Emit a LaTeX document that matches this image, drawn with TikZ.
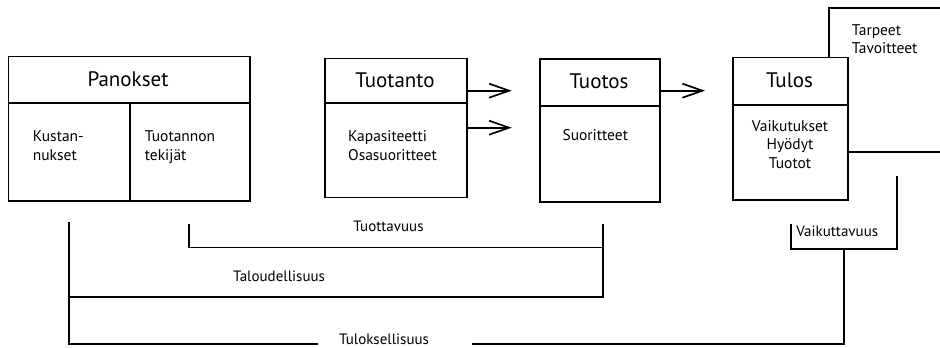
\documentclass[tikz,border=0pt]{standalone}
\usepackage{fontspec}
\setmainfont{PT Sans}
\usetikzlibrary{arrows.meta}
\begin{document}
\begin{tikzpicture}[x=1pt,y=-1pt,
  line width=1.7pt,
  box/.style={draw, anchor=north west, inner sep=0pt},
  head/.style={inner sep=0pt, font=\fontsize{21}{25}\selectfont},
  body/.style={inner sep=0pt, font=\fontsize{15.5}{18.3}\selectfont},
  blabel/.style={inner sep=0pt, font=\fontsize{15}{17}\selectfont},
  flow/.style={-{Straight Barb[length=20pt,width=14pt,line width=1.7pt]}},
  bracket/.style={line cap=rect}]
\useasboundingbox (0,0) rectangle (940,348);

% Panokset: inputs, split into costs and production factors
\node[box, minimum width=241.5pt, minimum height=144.5pt] (pan) at (7.5,55.5) {};
\draw (pan.west |- 0,103) -- (pan.east |- 0,103);
\draw (130,103) coordinate (panmid) -- (pan.south -| panmid);
\node[head] (panh) at (128,79) {Panokset};
\node[body, anchor=base west, align=left] (kus) at (32,160) {Kustan-\\nukset};
\node[body, anchor=base west, align=left] (tek) at (144,160) {Tuotannon\\tekijät};

% Tuotanto
\node[box, minimum width=142pt, minimum height=139pt] (tuo) at (324,57.7) {};
\draw (tuo.west |- 0,103) -- (tuo.east |- 0,103);
\node[head] (tuoh) at (395,80) {Tuotanto};
\node[body, anchor=base west, align=left] (kap) at (347.3,160) {Kapasiteetti\\Osasuoritteet};

% Tuotos
\node[box, minimum width=120pt, minimum height=143pt] (tos) at (539,58) {};
\draw (tos.west |- 0,106) -- (tos.east |- 0,106);
\node[head] (tosh) at (599,81) {Tuotos};
\node[body, anchor=base west] (suo) at (561.7,140.7) {Suoritteet};

% Tulos
\node[box, minimum width=115pt, minimum height=142.3pt] (tul) at (732,56.7) {};
\draw (tul.west |- 0,105) -- (tul.east |- 0,105);
\node[head] (tulh) at (789.5,80) {Tulos};
\node[body, anchor=base, align=center] (vai) at (790,168) {Vaikutukset\\Hyödyt\\Tuotot};

% Flow arrows
\coordinate (a1) at (511.7,90.7);
\coordinate (a2) at (511.7,127.7);
\coordinate (a3) at (705,90.7);
\draw[flow] (tuo.east |- a1) -- (a1);
\draw[flow] (tuo.east |- a2) -- (a2);
\draw[flow] (tos.east |- a3) -- (a3);

% Needs and goals frame behind Tulos
\coordinate (tp1) at (829,8.3);
\coordinate (tp2) at (940,8.3);
\coordinate (tp3) at (940,151.7);
\draw[bracket] (tul.north -| tp1) -- (tp1) -- (tp2);
\draw (tul.east |- tp3) -- (tp3);
\node[body, anchor=base west, align=left] (tar) at (851,53.3) {Tarpeet\\Tavoitteet};

% Tuottavuus
\coordinate (p1) at (189.3,225);
\coordinate (p2) at (602.7,225);
\draw[bracket] (p1) -- (189.3,247.5) -- (602.7,247.5) -- (p2);
\node[blabel] (ptxt) at (388.5,226.7) {Tuottavuus};

% Taloudellisuus
\coordinate (t1) at (69,223);
\draw[bracket] (69,297.3) -- (602.7,297.3) -- (602.7,247.5);
\node[blabel] (ttxt) at (279,276) {Taloudellisuus};

% Vaikuttavuus
\coordinate (v1) at (790.7,225);
\coordinate (v2) at (897.3,177);
\coordinate (vm) at (844,249);
\draw[bracket] (v1) -- (790.7,249) -- (897.3,249) -- (v2);
\node[blabel, anchor=west] (vtxt) at (795.5,231.7) {Vaikuttavuus};

% Tuloksellisuus
\node[blabel] (ltxt) at (384,339) {Tuloksellisuus};
\draw[bracket] (t1) -- (69,344) -- (316.7,344);
\draw[bracket] (473.3,344) -- (844,344) -- (vm);
\end{tikzpicture}
\end{document}
